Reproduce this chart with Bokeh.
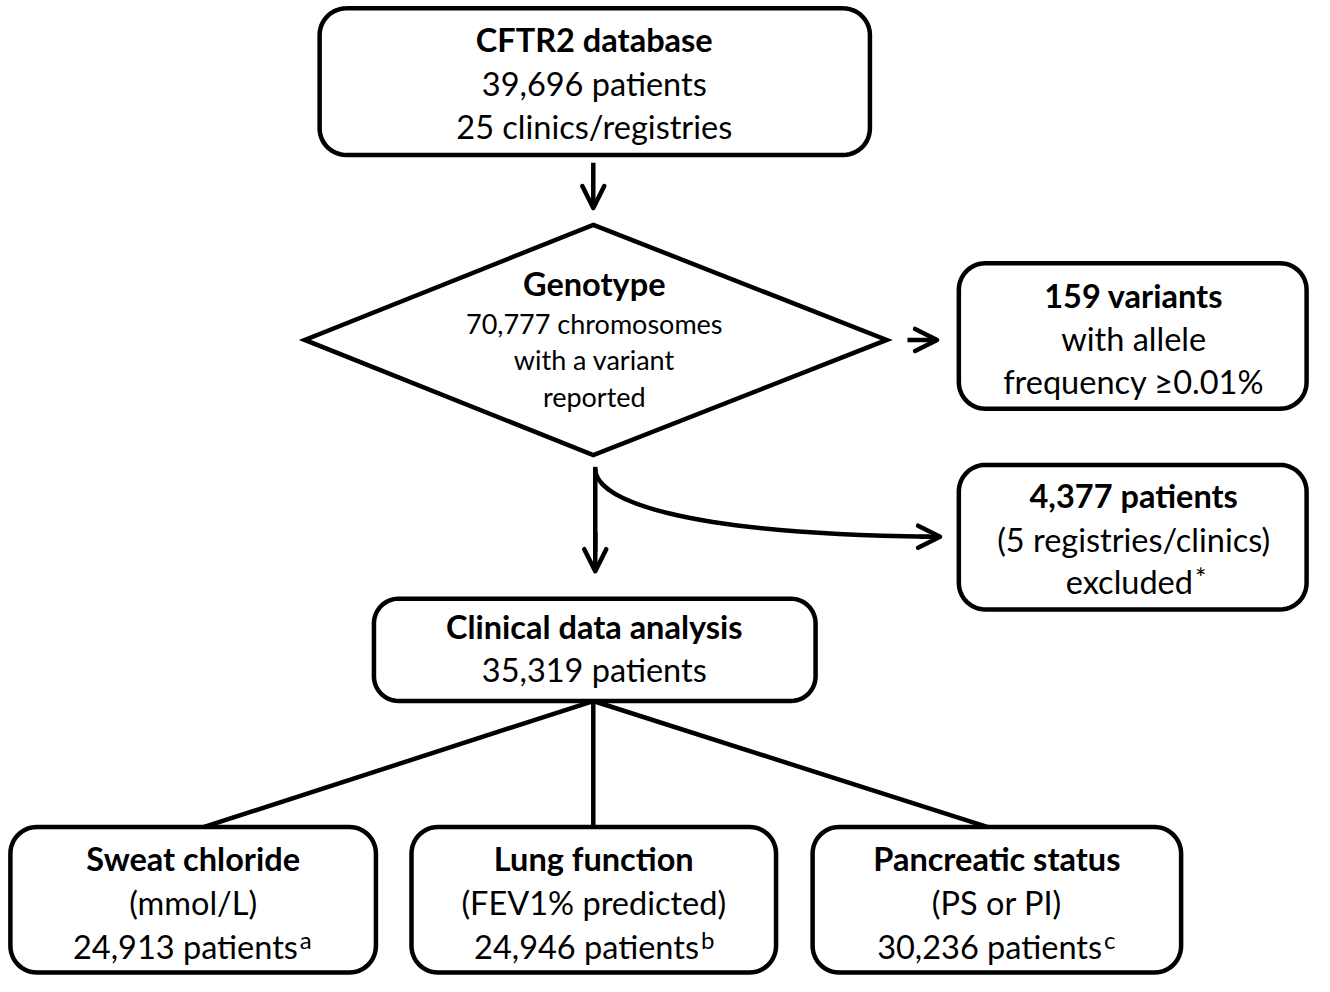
import numpy as np
from bokeh.plotting import figure
from bokeh.models import Range1d, Arrow, OpenHead
from bokeh.core.properties import value
from bokeh.embed import file_html
from bokeh.resources import INLINE

# ---------------- data (texts of the flowchart) ----------------
top_lines = ["CFTR2 database", "39,696 patients", "25 clinics/registries"]
geno_lines = ["Genotype", "70,777 chromosomes", "with a variant", "reported"]
variant_lines = ["159 variants", "with allele", "frequency \u22650.01%"]
excluded_lines = ["4,377 patients", "(5 registries/clinics)", "excluded"]
excluded_mark = "*"
clinical_lines = ["Clinical data analysis", "35,319 patients"]
outcomes = ["Sweat chloride", "Lung function", "Pancreatic status"]
units = ["(mmol/L)", "(FEV1% predicted)", "(PS or PI)"]
n_patients = ["24,913 patients", "24,946 patients", "30,236 patients"]
footnotes = ["a", "b", "c"]

FONT = value("Lato")
BIG = "32.5px"
SMALL = "27px"
LW = 4.5

p = figure(width=1314, height=976, x_range=Range1d(0, 1330), y_range=Range1d(992, 0),
           output_backend="svg", toolbar_location=None, min_border=0,
           x_axis_location=None, y_axis_location=None)
p.grid.visible = False
p.outline_line_color = None
p.background_fill_color = "white"


def rounded(x0, y0, x1, y1, r, n=14):
    xs, ys = [], []
    corners = [(x1 - r, y0 + r, -np.pi / 2, 0.0),
               (x1 - r, y1 - r, 0.0, np.pi / 2),
               (x0 + r, y1 - r, np.pi / 2, np.pi),
               (x0 + r, y0 + r, np.pi, 1.5 * np.pi)]
    for cx, cy, a0, a1 in corners:
        t = np.linspace(a0, a1, n)
        xs.extend(cx + r * np.cos(t))
        ys.extend(cy + r * np.sin(t))
    return xs, ys


def box(x0, y0, x1, y1, r=27):
    xs, ys = rounded(x0, y0, x1, y1, r)
    p.patch(xs, ys, fill_color="white", line_color="black", line_width=LW, line_join="round")


def arrow(x0, y0, x1, y1):
    p.add_layout(Arrow(x_start=x0, y_start=y0, x_end=x1, y_end=y1, line_width=LW,
                       line_color="black",
                       end=OpenHead(size=22, line_width=LW, line_color="black", line_cap="round",
                                    line_join="round")))


def text_lines(x, ys, texts, sizes, styles):
    for yy, t, s, st in zip(ys, texts, sizes, styles):
        p.text(x=[x], y=[yy], text=[t], text_font=FONT, text_font_size=s, text_font_style=st,
               text_align="center", text_baseline="middle", text_color="black")


def sup_line(x_end, y_mid, t, mark, mark_size="24px", raise_by=8):
    p.text(x=[x_end], y=[y_mid], text=[t], text_font=FONT, text_font_size=BIG,
           text_align="right", text_baseline="middle", text_color="black")
    p.text(x=[x_end + 2], y=[y_mid - raise_by], text=[mark], text_font=FONT,
           text_font_size=mark_size, text_align="left", text_baseline="middle",
           text_color="black")


# connectors from clinical box to outcome boxes (drawn first, boxes cover ends)
p.segment(x0=[600, 600, 600], y0=[712, 712, 712], x1=[200, 600, 1005], y1=[842, 842, 842],
          line_color="black", line_width=LW)

# top box
box(323, 8, 880, 157)
text_lines(601, [40, 84, 128], top_lines, [BIG] * 3, ["bold", "normal", "normal"])

arrow(600, 165, 600, 211)

# diamond
p.patch([600, 897, 600, 308], [228, 345, 462, 345], fill_color="white", line_color="black",
        line_width=LW, line_join="miter")
text_lines(601, [288, 328, 365, 402], geno_lines, [BIG, SMALL, SMALL, SMALL],
           ["bold", "normal", "normal", "normal"])

arrow(918, 345, 948, 345)

# variants box
box(970, 267, 1322, 415)
text_lines(1147, [300, 344, 387], variant_lines, [BIG] * 3, ["bold", "normal", "normal"])

# split arrow
p.line([602, 602], [474, 560], line_color="black", line_width=LW)
arrow(602, 540, 602, 580)
p.bezier(x0=[602], y0=[476], x1=[940], y1=[545], cx0=[602], cy0=[508], cx1=[690], cy1=[542],
         line_color="black", line_width=LW)
arrow(930, 545, 951, 545)

# excluded box
box(970, 472, 1322, 619)
text_lines(1147, [503, 548], excluded_lines[:2], [BIG] * 2, ["bold", "normal"])
sup_line(1207, 591, excluded_lines[2], excluded_mark, mark_size="27px", raise_by=5)

# clinical box
box(378, 608, 825, 712, r=25)
text_lines(601, [636, 680], clinical_lines, [BIG] * 2, ["bold", "normal"])

# outcome boxes
bx = [(10, 380), (416, 785), (822, 1195)]
ends = [301, 707, 1115]
for (x0, x1), o, u, n, f, e in zip(bx, outcomes, units, n_patients, footnotes, ends):
    box(x0, 840, x1, 988)
    c = (x0 + x1) / 2
    text_lines(c, [872, 917], [o, u], [BIG] * 2, ["bold", "normal"])
    sup_line(e, 962, n, f, mark_size="24px", raise_by=8)

open("out.html", "w").write(file_html(p, INLINE))
